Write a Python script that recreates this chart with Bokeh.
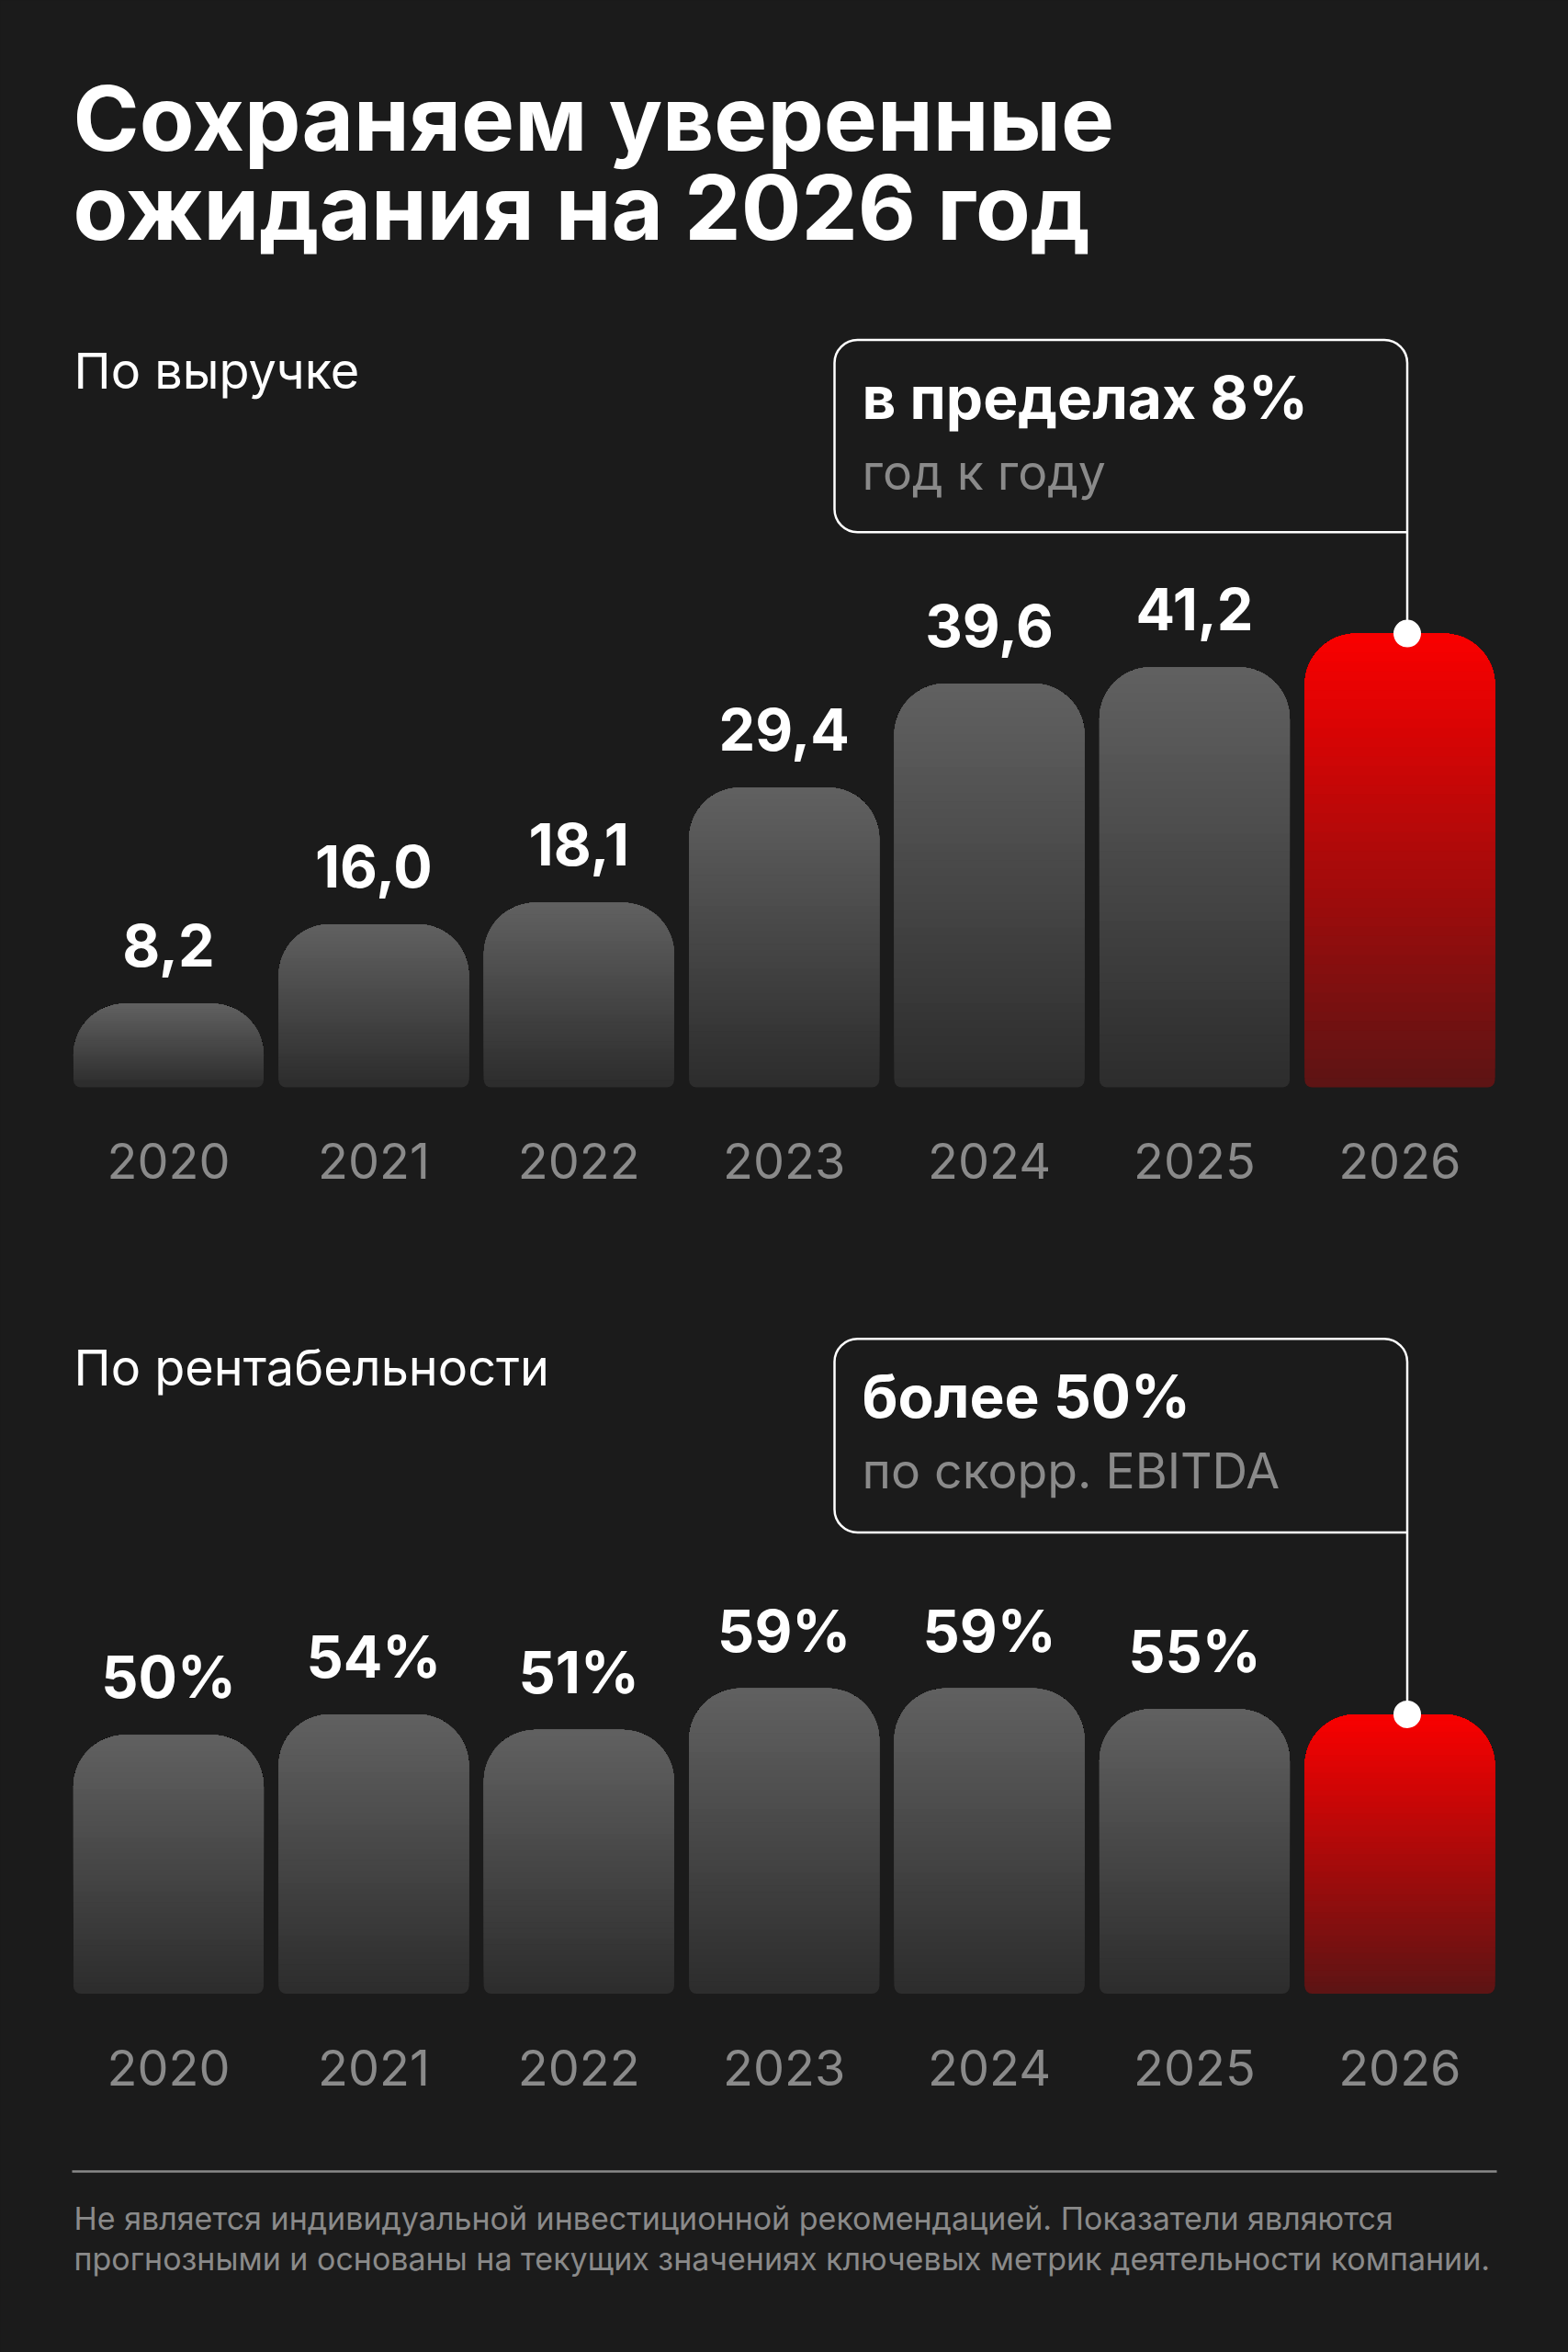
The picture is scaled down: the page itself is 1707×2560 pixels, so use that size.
import math

from bokeh.plotting import figure
from bokeh.models import Range1d
from bokeh.core.properties import value
from bokeh.embed import file_html
from bokeh.resources import INLINE

# --- data -------------------------------------------------------------
YEARS = ["2020", "2021", "2022", "2023", "2024", "2025", "2026"]
REVENUE = [8.2, 16.0, 18.1, 29.4, 39.6, 41.2, 44.5]          # 2026 = forecast
REVENUE_LABELS = ["8,2", "16,0", "18,1", "29,4", "39,6", "41,2", ""]
MARGIN = [50, 54, 51, 59, 59, 55, 54]                        # 2026 = forecast
MARGIN_LABELS = ["50%", "54%", "51%", "59%", "59%", "55%", ""]
FORECAST = [False, False, False, False, False, False, True]

TITLE_LINES = ["Сохраняем уверенные", "ожидания на 2026 год"]
SUB_REVENUE = "По выручке"
SUB_MARGIN = "По рентабельности"
CALLOUT_REVENUE = ["в пределах 8%", "год к году"]
CALLOUT_MARGIN = ["более 50%", "по скорр. EBITDA"]
FOOTER = ["Не является индивидуальной инвестиционной рекомендацией. Показатели являются",
          "прогнозными и основаны на текущих значениях ключевых метрик деятельности компании."]

# --- style ------------------------------------------------------------
BG = "#1b1b1b"
MUTED = "#8a8a8a"
GRAY_TOP, GRAY_BOT = (97, 97, 97), (44, 44, 44)
RED_TOP, RED_BOT = (250, 0, 0), (92, 20, 20)
FONT = value("Inter")
RADIUS = 56          # px, rounded bar caps
RADIUS_BOT = 8       # px, bottom corners
BAR_W = 0.927
LIFT = 0.4           # baseline correction, in em

# page coordinates = pixels of the 1707x2560 page
W, H = 1707, 2560
X0, STEP = 183.0, 223.4              # page x of first bar centre, bar pitch
REV_BASE, REV_PX = 1183.0, 11.1      # page y of zero, px per unit
MAR_BASE, MAR_PX = 2169.5, 5.63
DOT_X = 1531.5
BOX_L, BOX_R = 908, 1531.5
BOX1_T, BOX1_B = 369.6, 578.8
BOX2_T, BOX2_B = 1456.7, 1667.4

IDX = list(range(len(YEARS)))


def mix(c0, c1, t):
    return "#%02x%02x%02x" % tuple(round(a + (b - a) * t) for a, b in zip(c0, c1))


def page_text(xs, ys, texts, size, color="white", bold=False):
    p.text(x=xs, y=[y - LIFT * size for y in ys], text=texts, text_font=FONT,
           text_font_style="bold" if bold else "normal", text_font_size=f"{size}px",
           text_color=color, text_baseline="alphabetic")


p = figure(width=W, height=H, x_range=Range1d(0, W), y_range=Range1d(H, 0),
           output_backend="svg", toolbar_location=None, tools="",
           min_border=0, background_fill_color=BG, border_fill_color=BG,
           outline_line_color=None)
p.axis.visible = False
p.grid.visible = False

p.extra_x_ranges = {"yr": Range1d(-X0 / STEP, (W - X0) / STEP)}
p.extra_y_ranges = {
    "rev": Range1d((REV_BASE - H) / REV_PX, REV_BASE / REV_PX),
    "mar": Range1d((MAR_BASE - H) / MAR_PX, MAR_BASE / MAR_PX),
}


def half_width(y, h):
    # half width (px) of a rounded bar of height h (px) at height y above its base
    hw = BAR_W * STEP / 2
    if y > h - RADIUS:
        d = y - (h - RADIUS)
        return hw - RADIUS + math.sqrt(max(RADIUS ** 2 - d ** 2, 0))
    if y < RADIUS_BOT:
        d = RADIUS_BOT - y
        return hw - RADIUS_BOT + math.sqrt(max(RADIUS_BOT ** 2 - d ** 2, 0))
    return hw


def upper_part(i, v, px, y0):
    # outline of the bar above y0 (px), in the chart's own units
    h = v * px
    ys = [h - RADIUS + RADIUS * math.sin(math.pi / 2 * j / 16) for j in range(17)]
    ys = [y0] + [y for y in ys if y > y0]
    pts = [(y, half_width(y, h)) for y in ys]
    xs = [i - w / STEP for y, w in pts] + [i + w / STEP for y, w in reversed(pts)]
    yv = [y / px for y, w in pts] + [y / px for y, w in reversed(pts)]
    return xs, yv


def draw_bars(values, labels, rng, px, n=48):
    base_col = [mix(RED_BOT, RED_TOP, 0.5 / n) if f else mix(GRAY_BOT, GRAY_TOP, 0.5 / n)
                for f in FORECAST]
    p.vbar(x=IDX, top=values, bottom=0, width=BAR_W, fill_color=base_col, line_color=None,
           border_radius=(RADIUS, RADIUS, RADIUS_BOT, RADIUS_BOT),
           x_range_name="yr", y_range_name=rng)
    # vertical gradient: copies of each bar's upper part, each one starting higher
    xs, ys, cols = [], [], []
    for i, v, f in zip(IDX, values, FORECAST):
        c0, c1 = (RED_BOT, RED_TOP) if f else (GRAY_BOT, GRAY_TOP)
        for k in range(1, n):
            y0 = max(v * px * k / n, RADIUS_BOT)
            sx, sy = upper_part(i, v, px, y0)
            xs.append(sx)
            ys.append(sy)
            cols.append(mix(c0, c1, (k + 0.5) / n))
    p.patches(xs=xs, ys=ys, fill_color=cols, line_color=None,
              x_range_name="yr", y_range_name=rng)
    p.text(x=IDX, y=values, text=labels, x_range_name="yr", y_range_name=rng,
           y_offset=-38 - LIFT * 63, text_align="center", text_baseline="alphabetic",
           text_font=FONT, text_font_style="bold", text_font_size="63px", text_color="white")
    p.text(x=IDX, y=[0] * len(YEARS), text=YEARS, x_range_name="yr", y_range_name=rng,
           y_offset=102 - LIFT * 54, text_align="center", text_baseline="alphabetic",
           text_font=FONT, text_font_size="54px", text_color=MUTED)


def draw_callout(lines, top, bottom, rng, px, base, bar_value):
    p.quad(left=BOX_L, right=BOX_R, top=top, bottom=bottom, fill_color=None,
           line_color="white", line_width=2.5, border_radius=(25, 25, 0, 25))
    page_text([938], [top + 88], [lines[0]], 64, bold=True)
    page_text([938], [top + 165], [lines[1]], 53.5, color=MUTED)
    p.line(x=[DOT_X, DOT_X], y=[bar_value, (base - bottom) / px], y_range_name=rng,
           line_color="white", line_width=2.5)
    p.scatter(x=[DOT_X], y=[bar_value], y_range_name=rng, size=30,
              fill_color="white", line_color=None)


# title and section headers
page_text([79, 79], [167, 264.5], TITLE_LINES, 97.5, bold=True)
page_text([80, 80], [424.5, 1510], [SUB_REVENUE, SUB_MARGIN], 54)

draw_bars(REVENUE, REVENUE_LABELS, "rev", REV_PX)
draw_bars(MARGIN, MARGIN_LABELS, "mar", MAR_PX)
draw_callout(CALLOUT_REVENUE, BOX1_T, BOX1_B, "rev", REV_PX, REV_BASE, REVENUE[-1])
draw_callout(CALLOUT_MARGIN, BOX2_T, BOX2_B, "mar", MAR_PX, MAR_BASE, MARGIN[-1])

# footer
p.line(x=[78, 1629], y=[2363, 2363], line_color=MUTED, line_width=2.5)
page_text([80, 80], [2428, 2471.7], FOOTER, 34, color=MUTED)

open("out.html", "w").write(file_html(p, INLINE).replace("<body>", '<body style="background:#1b1b1b">'))
